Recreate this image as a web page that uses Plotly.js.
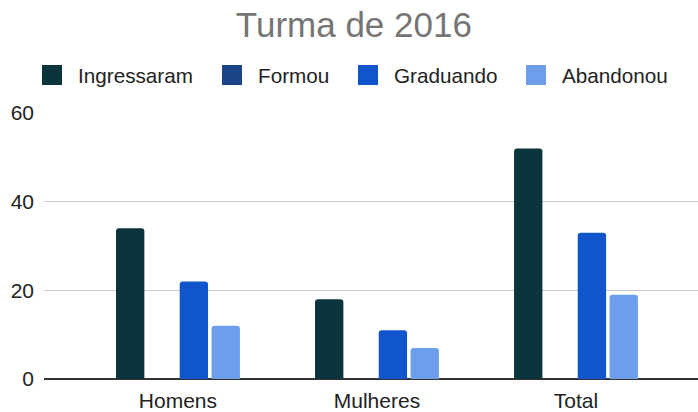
<!DOCTYPE html>
<html>
<head>
<meta charset="utf-8">
<script src="https://cdn.plot.ly/plotly-3.0.1.min.js"></script>
<style>html,body{margin:0;padding:0;background:#fff;}#chart{width:698px;height:412px;}</style>
</head>
<body>
<div id="chart"></div>
<script>
const categories = ["Homens", "Mulheres", "Total"];
const seriesNames = ["Ingressaram", "Formou", "Graduando", "Abandonou"];
const ingressaram = [34, 18, 52];
const formou = [0, 0, 0];
const graduando = [22, 11, 33];
const abandonou = [12, 7, 19];
const yTicks = [0, 20, 40, 60];
const colors = ["#0c343d", "#1c4587", "#1155cc", "#6d9eeb"];

const values = [ingressaram, formou, graduando, abandonou];
const FONT = "Liberation Sans, Arial, sans-serif";
const legendIds = ["legend", "legend2", "legend3", "legend4"];
const legendX = [26, 206, 342, 510];

const bars = seriesNames.map((name, i) => ({
  type: "bar",
  name: name,
  x: categories,
  y: values[i],
  marker: { color: colors[i], cornerradius: 3 },
  showlegend: false,
  hoverinfo: "x+y+name"
}));

// legend-only entries with larger square swatches
const keys = seriesNames.map((name, i) => ({
  type: "scatter",
  mode: "markers",
  name: name,
  x: [null],
  y: [null],
  legend: legendIds[i],
  marker: { symbol: "square", size: 16, color: colors[i], line: { color: colors[i], width: 4 } },
  showlegend: true,
  hoverinfo: "skip"
}));

const layout = {
  width: 698,
  height: 412,
  margin: { l: 44, r: 0, t: 113, b: 33 },
  paper_bgcolor: "#ffffff",
  plot_bgcolor: "#ffffff",
  font: { family: FONT, size: 20, color: "#222222" },
  title: {
    text: "Turma de 2016",
    font: { family: FONT, size: 35, color: "#757575" },
    xref: "container", x: 0.507, xanchor: "center",
    yref: "container", y: 1 - 12 / 412, yanchor: "top"
  },
  barmode: "group",
  bargap: 0.36,
  bargroupgap: 0.11,
  showlegend: true,
  xaxis: {
    type: "category",
    range: [-0.673, 2.613],
    showgrid: false,
    zeroline: false,
    showline: false,
    ticks: "",
    ticklabelstandoff: 7,
    tickfont: { family: FONT, size: 21, color: "#222222" },
    fixedrange: true
  },
  yaxis: {
    range: [0, 60],
    tickvals: yTicks,
    ticktext: yTicks.map(String),
    showgrid: true,
    gridcolor: "#cccccc",
    gridwidth: 1,
    zeroline: true,
    zerolinecolor: "#333333",
    zerolinewidth: 2,
    ticks: "",
    ticklabelstandoff: 9,
    tickfont: { family: FONT, size: 21, color: "#222222" },
    fixedrange: true
  }
};

legendIds.forEach((id, i) => {
  layout[id] = {
    orientation: "h",
    xref: "container", yref: "container",
    x: legendX[i] / 698, xanchor: "left",
    y: 1 - 55 / 412, yanchor: "top",
    itemwidth: 42,
    bgcolor: "rgba(0,0,0,0)",
    font: { family: FONT, size: 20.7, color: "#222222" },
    itemclick: false
  };
});

Plotly.newPlot("chart", bars.concat(keys), layout, { displayModeBar: false, staticPlot: true });
</script>
</body>
</html>
